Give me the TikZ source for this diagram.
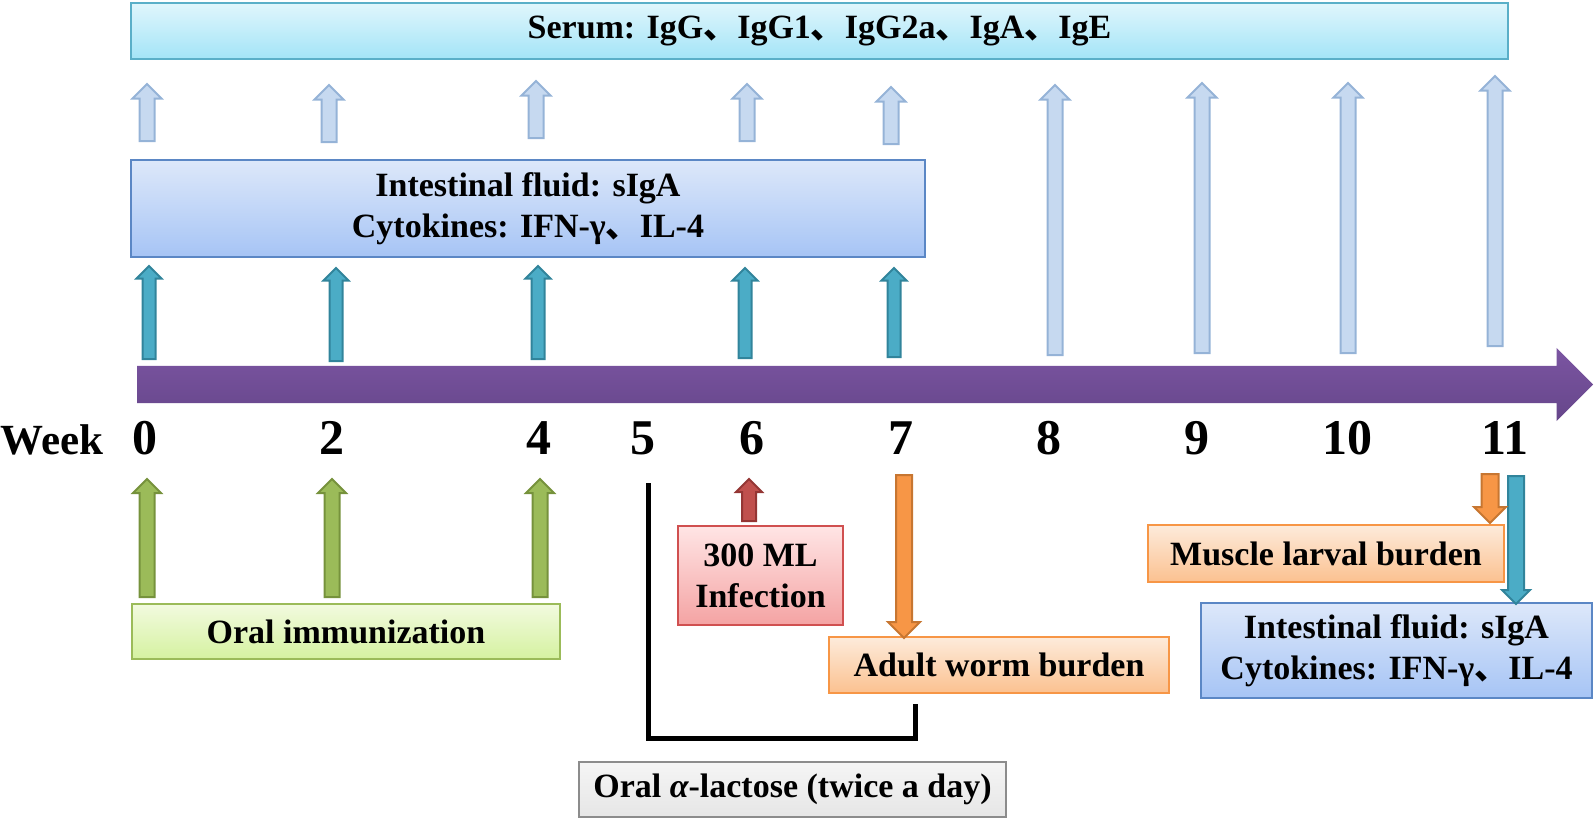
\documentclass[tikz,border=0pt]{standalone}
\usepackage{fontspec}
\setmainfont{Liberation Serif}
\newfontfamily\cjkfont{Noto Sans CJK SC}
\usepackage{tikz}
\usetikzlibrary{shapes.arrows}

\newcommand{\dunhao}{{\cjkfont 、}}

\definecolor{serumtop}{HTML}{E0F6FC}
\definecolor{serumbot}{HTML}{A3E4F7}
\definecolor{serumline}{HTML}{5AAFC8}
\definecolor{inttop}{HTML}{DDE8FA}
\definecolor{intbot}{HTML}{A6C4F5}
\definecolor{intline}{HTML}{5B87C5}
\definecolor{axistop}{HTML}{7B55A2}
\definecolor{axisbot}{HTML}{66468A}
\definecolor{ltfill}{HTML}{C6D9F0}
\definecolor{ltline}{HTML}{95B3D7}
\definecolor{tealfill}{HTML}{4BACC6}
\definecolor{tealline}{HTML}{31849B}
\definecolor{greenfill}{HTML}{9BBB59}
\definecolor{greenline}{HTML}{76923C}
\definecolor{redfill}{HTML}{C0504D}
\definecolor{redline}{HTML}{943634}
\definecolor{orgfill}{HTML}{F79646}
\definecolor{orgline}{HTML}{C77631}
\definecolor{immtop}{HTML}{F2FADF}
\definecolor{immbot}{HTML}{D5F2A0}
\definecolor{immline}{HTML}{9BBB59}
\definecolor{inftop}{HTML}{FFE5E5}
\definecolor{infbot}{HTML}{F4A3A3}
\definecolor{infline}{HTML}{D05050}
\definecolor{orgtop}{HTML}{FDEBDB}
\definecolor{orgbot}{HTML}{FBC190}
\definecolor{orgboxline}{HTML}{F79646}
\definecolor{lactop}{HTML}{F5F5F5}
\definecolor{lacbot}{HTML}{E6E6E6}
\definecolor{lacline}{HTML}{8C8C8C}

\begin{document}
\begin{tikzpicture}[
		x=1pt, y=-1pt,
		box/.style={rectangle, line width=1.5pt, inner sep=0pt, align=center,
			font=\fontsize{34}{41}\selectfont\bfseries},
		weeklabel/.style={anchor=base, inner sep=0pt, font=\fontsize{50}{50}\selectfont\bfseries},
		blockarrow/.style={single arrow, line width=2pt, anchor=tail},
		serumarrow/.style={blockarrow, draw=ltline, fill=ltfill, rotate=90,
			inner sep=6.5pt, single arrow head extend=7pt},
		tealarrow/.style={blockarrow, draw=tealline, fill=tealfill,
			inner sep=5.5pt, single arrow head extend=6pt},
		greenarrow/.style={blockarrow, draw=greenline, fill=greenfill, rotate=90,
			inner sep=6.5pt, single arrow head extend=6.5pt},
		orangearrow/.style={blockarrow, draw=orgline, fill=orgfill, rotate=-90,
			inner sep=7pt, single arrow head extend=8pt}
	]
  \useasboundingbox (0,0) rectangle (1594,820);

  % boxes
  \node (serum) [box, draw=serumline, top color=serumtop, bottom color=serumbot,
    minimum width=1377pt, minimum height=56pt] at (819.5,31)
    {Serum: IgG\dunhao IgG1\dunhao IgG2a\dunhao IgA\dunhao IgE};
  \node (intest) [box, draw=intline, top color=inttop, bottom color=intbot,
    minimum width=794pt, minimum height=97pt] at (528,208.5)
    {Intestinal fluid: sIgA\\Cytokines: IFN-γ\dunhao IL-4};
  \node (immun) [box, draw=immline, top color=immtop, bottom color=immbot,
    minimum width=428pt, minimum height=55pt] at (346,631.5) {Oral immunization};
  \node (infect) [box, draw=infline, top color=inftop, bottom color=infbot,
    minimum width=165pt, minimum height=99pt] at (760.5,575.5) {300 ML\\Infection};
  \node (adult) [box, draw=orgboxline, top color=orgtop, bottom color=orgbot,
    minimum width=340pt, minimum height=56pt] at (999,665) {Adult worm burden};
  \node (lactose) [box, draw=lacline, top color=lactop, bottom color=lacbot,
    minimum width=427pt, minimum height=55pt] at (792.5,789.5)
    {Oral {\itshape α}-lactose (twice a day)};
  \node (muscle) [box, draw=orgboxline, top color=orgtop, bottom color=orgbot,
    minimum width=356pt, minimum height=57pt] at (1326,553.5) {Muscle larval burden};
  \node (intest2) [box, draw=intline, top color=inttop, bottom color=intbot,
    minimum width=391pt, minimum height=95pt] at (1396.5,650.5)
    {Intestinal fluid: sIgA\\Cytokines: IFN-γ\dunhao IL-4};

  % time axis
  \node (axis) [single arrow, anchor=tail, inner sep=18.5pt, single arrow head extend=18pt,
    minimum height=1456pt, top color=axistop, bottom color=axisbot] at (137,384.5) {};

  % weeks
  \node (week) [weeklabel, font=\fontsize{43}{43}\selectfont\bfseries] at (52,454) {Week};
  \node (w0) [weeklabel] at (145,454) {0};
  \node (w2) [weeklabel] at (332,454) {2};
  \node (w4) [weeklabel] at (539,454) {4};
  \node (w5) [weeklabel] at (643,454) {5};
  \node (w6) [weeklabel] at (752,454) {6};
  \node (w7) [weeklabel] at (901,454) {7};
  \node (w8) [weeklabel] at (1049,454) {8};
  \node (w9) [weeklabel] at (1197,454) {9};
  \node (w10) [weeklabel] at (1347,454) {10};
  \node (w11) [weeklabel] at (1505,454) {11};

  % serum sampling
  \node (s0) [serumarrow, minimum height=57pt] at (147,142) {};
  \node (s2) [serumarrow, minimum height=57pt] at (329,143) {};
  \node (s4) [serumarrow, minimum height=57pt] at (536,139) {};
  \node (s6) [serumarrow, minimum height=57pt] at (747,142) {};
  \node (s7) [serumarrow, minimum height=57pt] at (891,145) {};
  \node (s8) [serumarrow, minimum height=270pt] at (1055,356) {};
  \node (s9) [serumarrow, minimum height=270pt] at (1202,354) {};
  \node (s10) [serumarrow, minimum height=270pt] at (1348,354) {};
  \node (s11) [serumarrow, minimum height=270pt] at (1495,347) {};

  % intestinal sampling
  \node (i0) [tealarrow, rotate=90, minimum height=93pt] at (149,360) {};
  \node (i2) [tealarrow, rotate=90, minimum height=93pt] at (336,362) {};
  \node (i4) [tealarrow, rotate=90, minimum height=93pt] at (538,360) {};
  \node (i6) [tealarrow, rotate=90, minimum height=90pt] at (745,359) {};
  \node (i7) [tealarrow, rotate=90, minimum height=89pt] at (894,358) {};
  \node (i11) [tealarrow, rotate=-90, minimum height=128pt, inner sep=7pt] at (1516,475) {};

  % immunization
  \node (g0) [greenarrow, minimum height=118pt] at (147,598) {};
  \node (g2) [greenarrow, minimum height=118pt] at (332,598) {};
  \node (g4) [greenarrow, minimum height=118pt] at (540,598) {};

  % infection and burden
  \node (inf) [blockarrow, draw=redline, fill=redfill, rotate=90, inner sep=6pt,
    single arrow head extend=6pt, minimum height=42pt] at (749,522) {};
  \node (o7) [orangearrow, minimum height=163pt] at (904,474) {};
  \node (o11) [orangearrow, minimum height=49pt, inner sep=7.5pt,
    single arrow head extend=7.5pt] at (1490,473) {};

  % lactose period
  \coordinate (lacstart) at (648,483);
  \coordinate (lacend) at (915,704);
  \draw[line width=5pt] (lacstart) -- ++(0,255) -| (lacend);
\end{tikzpicture}
\end{document}
